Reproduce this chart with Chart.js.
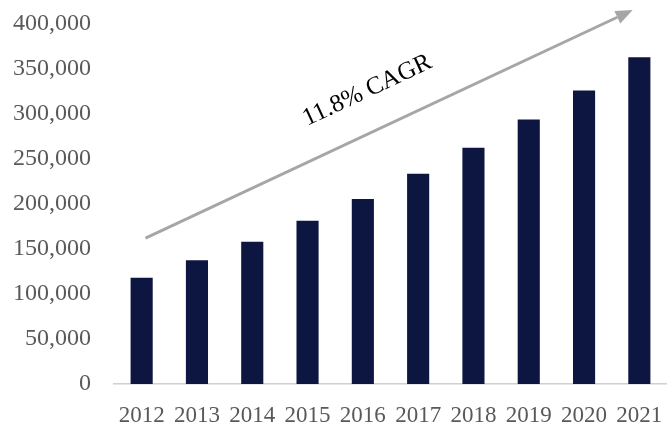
<!DOCTYPE html>
<html lang="en">
<head>
  <meta charset="UTF-8">
  <title>Growth chart</title>
  <style>
    html, body { margin: 0; padding: 0; background: #fff; }
    #wrap { width: 667px; height: 427px; }
  </style>
</head>
<body>
  <div id="wrap"><canvas id="chart"></canvas></div>
  <script src="https://cdn.jsdelivr.net/npm/chart.js"></script>
  <script>
    const years = ["2012", "2013", "2014", "2015", "2016", "2017", "2018", "2019", "2020", "2021"];
    const values = [118000, 137500, 158000, 181500, 205500, 233500, 262500, 294000, 326000, 363000];
    const yTicks = [0, 50000, 100000, 150000, 200000, 250000, 300000, 350000, 400000];
    const cagrLabel = "11.8% CAGR";
    // arrow ends, in (category index, value) space
    const arrowFrom = [0.07, 162000];
    const arrowTo = [8.88, 415500];
    const labelAt = [4.08, 326000];

    const cagrArrow = {
      id: "cagrArrow",
      afterDraw(chart) {
        const { ctx, scales: { x, y } } = chart;
        const x0 = x.getPixelForValue(arrowFrom[0]), y0 = y.getPixelForValue(arrowFrom[1]);
        const x1 = x.getPixelForValue(arrowTo[0]), y1 = y.getPixelForValue(arrowTo[1]);
        const ang = Math.atan2(y1 - y0, x1 - x0);
        const head = 17, half = 7;
        ctx.save();
        ctx.strokeStyle = "#a6a6a6";
        ctx.fillStyle = "#a6a6a6";
        ctx.lineWidth = 3;
        ctx.beginPath();
        ctx.moveTo(x0, y0);
        ctx.lineTo(x1 - head * Math.cos(ang), y1 - head * Math.sin(ang));
        ctx.stroke();
        ctx.translate(x1, y1);
        ctx.rotate(ang);
        ctx.beginPath();
        ctx.moveTo(0, 0);
        ctx.lineTo(-head, -half);
        ctx.lineTo(-head, half);
        ctx.closePath();
        ctx.fill();
        ctx.restore();

        ctx.save();
        ctx.translate(x.getPixelForValue(labelAt[0]), y.getPixelForValue(labelAt[1]));
        ctx.rotate(ang);
        ctx.font = "25px 'Liberation Serif'";
        ctx.fillStyle = "#000";
        ctx.textAlign = "center";
        ctx.textBaseline = "middle";
        ctx.fillText(cagrLabel, 0, 0);
        ctx.restore();
      }
    };

    new Chart(document.getElementById("chart"), {
      type: "bar",
      data: {
        labels: years,
        datasets: [{
          data: values,
          backgroundColor: "#0c1641",
          barPercentage: 0.4,
          categoryPercentage: 1.0,
        }],
      },
      options: {
        responsive: true,
        maintainAspectRatio: false,
        animation: false,
        layout: { padding: { top: 24, right: 0, left: 0, bottom: 0 } },
        plugins: { legend: { display: false }, tooltip: { enabled: false } },
        scales: {
          x: {
            grid: { display: false, drawTicks: false },
            border: { display: true, color: "#d0d0d0", width: 1.5 },
            ticks: {
              color: "#595959",
              font: { family: "'Liberation Serif'", size: 23 },
              padding: 18,
              maxRotation: 0,
              autoSkip: false,
            },
            afterFit: (s) => { s.height = 43; s.paddingLeft = 0; s.paddingRight = 0; },
          },
          y: {
            min: 0,
            max: 400000,
            grid: { display: false, drawTicks: false },
            border: { display: false },
            afterBuildTicks: (s) => { s.ticks = yTicks.map((v) => ({ value: v })); },
            ticks: {
              color: "#595959",
              font: { family: "'Liberation Serif'", size: 24 },
              padding: 23,
              callback: (v) => v.toLocaleString("en-US"),
            },
            afterFit: (s) => { s.width = 114; s.paddingTop = 0; s.paddingBottom = 0; },
          },
        },
      },
      plugins: [cagrArrow],
    });
  </script>
</body>
</html>
